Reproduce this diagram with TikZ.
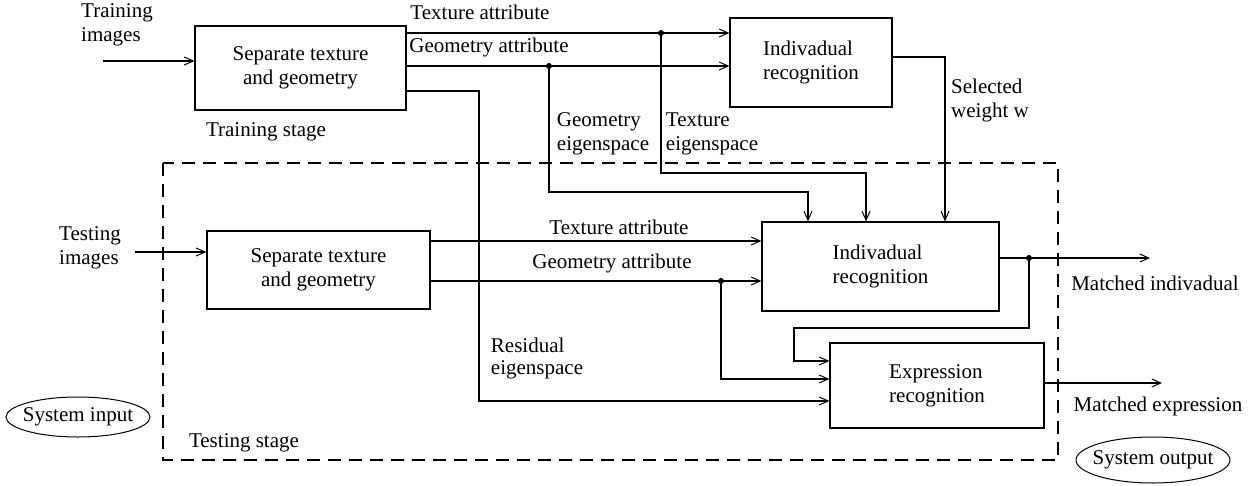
\documentclass[tikz,border=0pt]{standalone}
\usepackage{fontspec}
\setmainfont{Liberation Serif}
\newfontfamily\diagfont{Liberation Serif}
\usetikzlibrary{arrows.meta,shapes.geometric}
\begin{document}
\begin{tikzpicture}[x=1pt,y=-1pt,
  font=\diagfont\fontsize{21}{24}\selectfont,
  every node/.style={inner sep=0pt},
  line width=1.2pt,
  box/.style={draw,rectangle,align=center},
  lbl/.style={align=left},
  arr/.style={-{Straight Barb[length=9pt,width=8pt,line width=1pt]}},
  dot/.style={circle,fill,minimum size=6pt,inner sep=0pt},
  ovalline/.style={line width=1pt}
]
\useasboundingbox (0,0) rectangle (1248,485);

% dashed testing-stage frame
\draw[dash pattern=on 13pt off 8pt,line width=1.1pt] (163,163) rectangle (1058,460);

% boxes
\node[box,minimum width=211pt,minimum height=84pt] (tsep) at (300.5,68) {Separate texture\\and geometry};
\node[box,align=left,minimum width=162pt,minimum height=89pt] (tind) at (811,62.5) {Indivadual\\recognition};
\node[box,minimum width=223pt,minimum height=78pt] (lsep) at (318.5,270) {Separate texture\\and geometry};
\node[box,align=left,minimum width=237pt,minimum height=89pt] (lind) at (880.5,266.5) {Indivadual\\recognition};
\node[box,align=left,minimum width=214pt,minimum height=85pt] (expr) at (937,385.5) {Expression\\recognition};

% ellipses
\node (sin) at (78,417) {System input};
\draw[ovalline] (sin.center) ellipse [x radius=72pt, y radius=20pt];
\node (sout) at (1153,460) {System output};
\draw[ovalline] (sout.center) ellipse [x radius=77pt, y radius=23pt];

% junction points
\node[dot] (dtex) at (661,33) {};
\node[dot] (dgeo) at (549,66) {};
\node[dot] (dlgeo) at (721,281) {};
\node[dot] (dout) at (1029,258) {};

% free ends
\coordinate (trin) at (103,61);
\coordinate (tein) at (135,252);
\coordinate (oind) at (1150,258);
\coordinate (oexp) at (1162,383);

% training stage connectors
\draw[arr] (trin) -- (trin -| tsep.west);
\draw[arr] (tsep.east |- dtex) -- (dtex.center) -- (dtex -| tind.west);
\draw[arr] (tsep.east |- dgeo) -- (dgeo.center) -- (dgeo -| tind.west);
\draw[arr] (tsep.east |- 0,91) -- (479,91) -- (479,401) -- (expr.west |- 0,401);
\draw[arr] (dgeo.center) -- (549,192) -- (808,192) -- (808,0 |- lind.north);
\draw[arr] (dtex.center) -- (661,173) -- (866,173) -- (866,0 |- lind.north);
\draw[arr] (tind.east |- 0,57) -- (945,57) -- (945,0 |- lind.north);

% testing stage connectors
\draw[arr] (tein) -- (tein -| lsep.west);
\draw[arr] (lsep.east |- 0,241) -- (lind.west |- 0,241);
\draw[arr] (lsep.east |- dlgeo) -- (dlgeo.center) -- (dlgeo -| lind.west);
\draw[arr] (dlgeo.center) -- (721,379) -- (expr.west |- 0,379);
\draw[arr] (lind.east |- dout) -- (dout.center) -- (oind);
\draw[arr] (dout.center) -- (1029,328) -- (794,328) -- (794,361) -- (expr.west |- 0,361);
\draw[arr] (expr.east |- oexp) -- (oexp);

% labels
\node[lbl] (l1) at (117,25) {Training\\images};
\node (l2) at (480,12) {Texture attribute};
\node (l3) at (489,47) {Geometry attribute};
\node (l4) at (266,132) {Training stage};
\node[lbl] (l5) at (603,134) {Geometry\\eigenspace};
\node[lbl] (l6) at (712,134) {Texture\\eigenspace};
\node[lbl] (l7) at (990,100) {Selected\\weight w};
\node[lbl] (l8) at (90,248) {Testing\\images};
\node (l9) at (619,227) {Texture attribute};
\node (l10) at (612,263) {Geometry attribute};
\node[lbl,font=\diagfont\fontsize{21}{22}\selectfont] (l11) at (537,358) {Residual\\eigenspace};
\node (l12) at (1155,283) {Matched indivadual};
\node (l13) at (1158,406) {Matched expression};
\node (l14) at (244,443) {Testing stage};
\end{tikzpicture}
\end{document}
